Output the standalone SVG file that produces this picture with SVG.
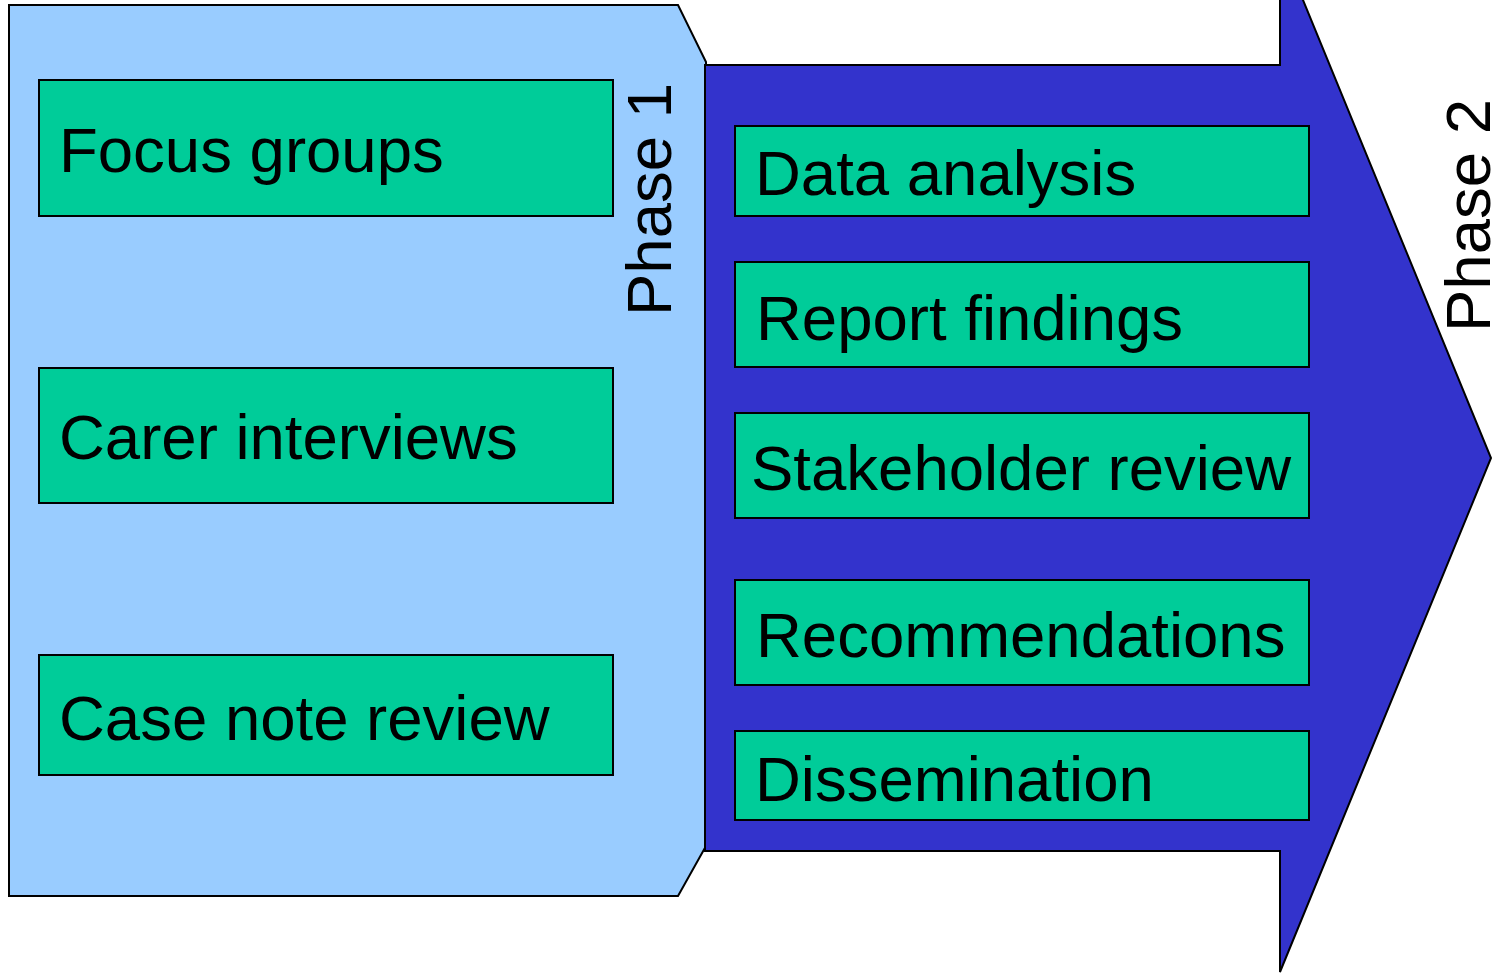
<svg xmlns="http://www.w3.org/2000/svg" width="1504" height="973" viewBox="0 0 1504 973">
  <style>
    .box { fill: #00CC99; stroke: #000; stroke-width: 2; }
    .lbl { font-family: "Liberation Sans", Arial, sans-serif; font-size: 63.5px; fill: #000; }
  </style>
  <rect x="0" y="0" width="1504" height="973" fill="#fff"/>
  <g id="phase1">
    <polygon points="9,5 678,5 706,62 706,846 678,896 9,896" fill="#99CCFF" stroke="#000" stroke-width="2"/>
    <text class="lbl" transform="translate(671,316) rotate(-90)">Phase 1</text>
  </g>
  <g id="phase2">
    <polygon points="705,65 1280,65 1280,-56 1491,458 1280,972 1280,851 705,851" fill="#3333CC" stroke="#000" stroke-width="2"/>
    <text class="lbl" transform="translate(1490,332) rotate(-90)">Phase 2</text>
  </g>
  <g id="focus-groups">
    <rect class="box" x="39" y="80" width="574" height="136"/>
    <text class="lbl" x="59" y="172">Focus groups</text>
  </g>
  <g id="carer-interviews">
    <rect class="box" x="39" y="368" width="574" height="135"/>
    <text class="lbl" x="59" y="459">Carer interviews</text>
  </g>
  <g id="case-note-review">
    <rect class="box" x="39" y="655" width="574" height="120"/>
    <text class="lbl" x="59" y="740">Case note review</text>
  </g>
  <g id="data-analysis">
    <rect class="box" x="735" y="126" width="574" height="90"/>
    <text class="lbl" x="755" y="195">Data analysis</text>
  </g>
  <g id="report-findings">
    <rect class="box" x="735" y="262" width="574" height="105"/>
    <text class="lbl" x="756" y="340">Report findings</text>
  </g>
  <g id="stakeholder-review">
    <rect class="box" x="735" y="413" width="574" height="105"/>
    <text class="lbl" x="751" y="490">Stakeholder review</text>
  </g>
  <g id="recommendations">
    <rect class="box" x="735" y="580" width="574" height="105"/>
    <text class="lbl" x="756" y="657">Recommendations</text>
  </g>
  <g id="dissemination">
    <rect class="box" x="735" y="731" width="574" height="89"/>
    <text class="lbl" x="755" y="801">Dissemination</text>
  </g>
  <g id="connectors"></g>
</svg>
